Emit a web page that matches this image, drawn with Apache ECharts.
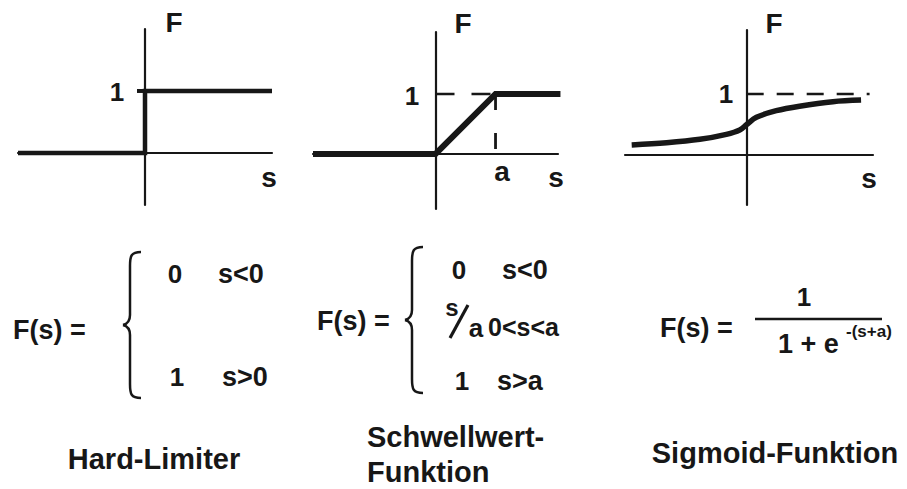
<!DOCTYPE html>
<html>
<head>
<meta charset="utf-8">
<script src="https://cdn.jsdelivr.net/npm/echarts@6/dist/echarts.min.js"></script>
<style>
html,body{margin:0;padding:0;background:#fff;}
#c{width:907px;height:489px;}
</style>
</head>
<body>
<div id="c"></div>
<script>
// ---- data ----
const hardS = [-1, 0, 0, 1];
const hardF = [0, 0, 1, 1];
const hardTickS = [-0.063, 0];
const hardTickF = [1, 1];

const rampA = 0.49;
const rampS = [-1, 0, 0.49, 1.02];
const rampF = [0, 0, 1, 1];
const rampGuideHS = [0, 0.49];
const rampGuideHF = [1, 1];
const rampGuideVS = [0.49, 0.49];
const rampGuideVF = [1, 0];

const sigS = [-0.945, -0.658, -0.385, -0.167, -0.057, 0, 0.08, 0.243, 0.434, 0.708, 0.94];
const sigF = [0.164, 0.20, 0.257, 0.339, 0.41, 0.50, 0.617, 0.726, 0.80, 0.874, 0.90];
const sigGuideS = [0, 1.01];
const sigGuideF = [1, 1];

const axisNameY = 'F';
const axisNameX = 's';
const tickOne = '1';
const tickA = 'a';
const titles = ['Hard-Limiter', 'Schwellwert-', 'Funktion', 'Sigmoid-Funktion'];

// ---- helpers ----
const INK = '#171717';
const FONT = '"Liberation Sans", Arial, Helvetica, sans-serif';
function zip(a, b) { return a.map((v, i) => [v, b[i]]); }
function txt(t, x, y, size, align) {
  return { type: 'text', x: x, y: y, silent: true,
    style: { text: t, font: 'bold ' + size + 'px ' + FONT, fill: INK,
      align: align || 'center', verticalAlign: 'middle' } };
}
function bez(x1, y1, c1x, c1y, c2x, c2y, x2, y2) {
  return { type: 'bezierCurve', silent: true,
    shape: { x1: x1, y1: y1, cpx1: c1x, cpy1: c1y, cpx2: c2x, cpy2: c2y, x2: x2, y2: y2 },
    style: { fill: null, stroke: INK, lineWidth: 2.5 } };
}
function seg(x1, y1, x2, y2, w) {
  return { type: 'line', silent: true, shape: { x1: x1, y1: y1, x2: x2, y2: y2 },
    style: { stroke: INK, lineWidth: w } };
}
function brace(xl, top, mid, bottom) {
  const xm = xl + 7, xr = xl + 18;
  return { type: 'group', silent: true, children: [
    bez(xr, top, xm + 1, top, xm, top + 4, xm, top + 14),
    seg(xm, top + 14, xm, mid - 10, 2.5),
    bez(xm, mid - 10, xm, mid - 3, xm - 3, mid - 1, xl, mid),
    bez(xl, mid, xm - 3, mid + 1, xm, mid + 3, xm, mid + 10),
    seg(xm, mid + 10, xm, bottom - 14, 2.5),
    bez(xm, bottom - 14, xm, bottom - 4, xm + 1, bottom, xr, bottom)
  ] };
}
function axisBase(grid, min, max) {
  return { type: 'value', gridIndex: grid, min: min, max: max,
    axisLine: { show: true, onZero: true, lineStyle: { color: INK, width: 2.2 } },
    axisTick: { show: false }, axisLabel: { show: false }, splitLine: { show: false } };
}
function lineSeries(grid, data, width, extra) {
  return Object.assign({ type: 'line', xAxisIndex: grid, yAxisIndex: grid, data: data,
    symbol: 'none', silent: true, animation: false, clip: false,
    lineStyle: { color: INK, width: width, cap: 'butt', join: 'miter' } }, extra || {});
}

const chart = echarts.init(document.getElementById('c'), null, { renderer: 'svg', width: 907, height: 489 });

chart.setOption({
  backgroundColor: '#ffffff',
  animation: false,
  grid: [
    { left: 18, top: 29, width: 254, height: 176 },
    { left: 313, top: 32, width: 245, height: 177 },
    { left: 625, top: 30, width: 248, height: 175 }
  ],
  xAxis: [axisBase(0, -1, 1), axisBase(1, -1, 1), axisBase(2, -1, 1.038)],
  yAxis: [axisBase(0, -0.84, 2.0), axisBase(1, -0.917, 2.033), axisBase(2, -0.82, 2.049)],
  series: [
    lineSeries(0, zip(hardS, hardF), 4.5),
    lineSeries(0, zip(hardTickS, hardTickF), 4),
    lineSeries(1, zip(rampGuideHS, rampGuideHF), 2.5, { lineStyle: { color: INK, width: 2.5, type: [19, 17] } }),
    lineSeries(1, zip(rampGuideVS, rampGuideVF), 2.8, { lineStyle: { color: INK, width: 2.8, type: [16, 23] } }),
    lineSeries(1, zip(rampS, rampF), 6),
    lineSeries(2, zip(sigGuideS, sigGuideF), 2.5, { lineStyle: { color: INK, width: 2.5, type: [17, 13] } }),
    lineSeries(2, zip(sigS, sigF), 5.5, { smooth: 0.35 })
  ],
  graphic: [
    // plot labels
    txt(axisNameY, 174, 22, 28), txt(tickOne, 117, 92, 26), txt(axisNameX, 269, 177, 28),
    txt(axisNameY, 463, 23, 28), txt(tickOne, 412, 96, 26), txt(tickA, 502, 171, 28), txt(axisNameX, 556, 177, 28),
    txt(axisNameY, 774, 23, 28), txt(tickOne, 726, 94, 26), txt(axisNameX, 869, 178, 28),
    // Hard-Limiter formula
    txt('F(s) =', 13, 330, 27, 'left'),
    brace(123, 252, 325, 398),
    txt('0', 175, 274, 26), txt('s<0', 218, 274, 27, 'left'),
    txt('1', 177, 377, 26), txt('s>0', 222, 377, 27, 'left'),
    // Schwellwert formula
    txt('F(s) =', 317, 321, 27, 'left'),
    brace(405, 247, 320, 393),
    txt('0', 459, 270, 26), txt('s<0', 502, 270, 27, 'left'),
    txt('s', 452, 307, 24), seg(450, 338, 468, 305, 3.2), txt('a', 476, 328, 26),
    txt('0<s<a', 488, 327, 25, 'left'),
    txt('1', 462, 381, 26), txt('s>a', 497, 381, 27, 'left'),
    // Sigmoid formula
    txt('F(s) =', 660, 328, 27, 'left'),
    txt('1', 804, 297, 26),
    seg(755, 319, 882, 319, 2.5),
    txt('1 + e', 778, 344, 27, 'left'),
    txt('-(s+a)', 846, 331, 17, 'left'),
    // titles
    txt(titles[0], 154, 459, 29),
    txt(titles[1], 367, 437, 29, 'left'),
    txt(titles[2], 367, 472, 29, 'left'),
    txt(titles[3], 775, 453, 29)
  ]
});
</script>
</body>
</html>
